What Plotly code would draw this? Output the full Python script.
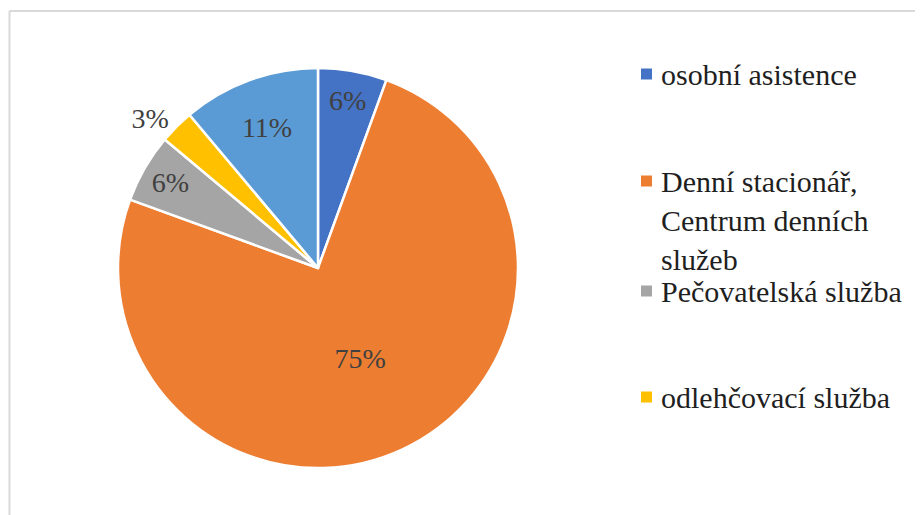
import plotly.graph_objects as go

labels = ["osobní asistence", "Denní stacionář, Centrum denních služeb",
          "Pečovatelská služba", "odlehčovací služba", "ostatní"]
legend_text = ["osobní asistence", "Denní stacionář,<br>Centrum denních<br>služeb",
               "Pečovatelská služba", "odlehčovací služba"]
values = [2, 27, 2, 1, 4]
colors = ["#4472C4", "#ED7D31", "#A5A5A5", "#FFC000", "#5B9BD5"]
text_pos = ["inside", "inside", "inside", "outside", "inside"]

W, H = 923, 515
OFF = 8  # page body margin
cx, cy, r = 318 - OFF, 268 - OFF, 200

fig = go.Figure(go.Pie(
    labels=labels, values=values, sort=False, direction="clockwise", rotation=0,
    marker=dict(colors=colors, line=dict(color="white", width=2.5)),
    textinfo="percent", texttemplate="%{percent:.0%}",
    textposition=text_pos, insidetextorientation="horizontal",
    textfont=dict(family="Liberation Serif", size=28),
    showlegend=False, hoverinfo="label+percent",
    domain=dict(x=[(cx - r) / W, (cx + r) / W], y=[(H - cy - r) / H, (H - cy + r) / H]),
))
fig.update_traces(textfont_color="#404040")

bx, by = 9.5 - OFF, 11 - OFF
shapes = [
    dict(type="line", xref="paper", yref="paper", x0=bx / W, x1=1, y0=1 - by / H, y1=1 - by / H,
         line=dict(color="#D9D9D9", width=2)),
    dict(type="line", xref="paper", yref="paper", x0=bx / W, x1=bx / W, y0=0, y1=1 - by / H,
         line=dict(color="#D9D9D9", width=2)),
]
annotations = []
legend_y = [74, 181, 291, 397]
for txt, col, ly in zip(legend_text, colors, legend_y):
    ly -= OFF
    shapes.append(dict(type="rect", xref="paper", yref="paper",
                       x0=(641 - OFF) / W, x1=(652 - OFF) / W, y0=1 - (ly + 5.5) / H, y1=1 - (ly - 5.5) / H,
                       fillcolor=col, line=dict(width=0)))
    annotations.append(dict(xref="paper", yref="paper", x=(659 - OFF) / W, y=1 - (ly - 18) / H,
                            xanchor="left", yanchor="top", text=txt, showarrow=False, align="left",
                            font=dict(family="Liberation Serif", size=30)))

fig.update_layout(
    width=W, height=H, margin=dict(l=0, r=0, t=0, b=0),
    uniformtext=dict(minsize=28, mode="show"),
    shapes=shapes, annotations=annotations,
)
fig.update_annotations(font_color="#1f1f1f")
fig.write_html("out.html")
